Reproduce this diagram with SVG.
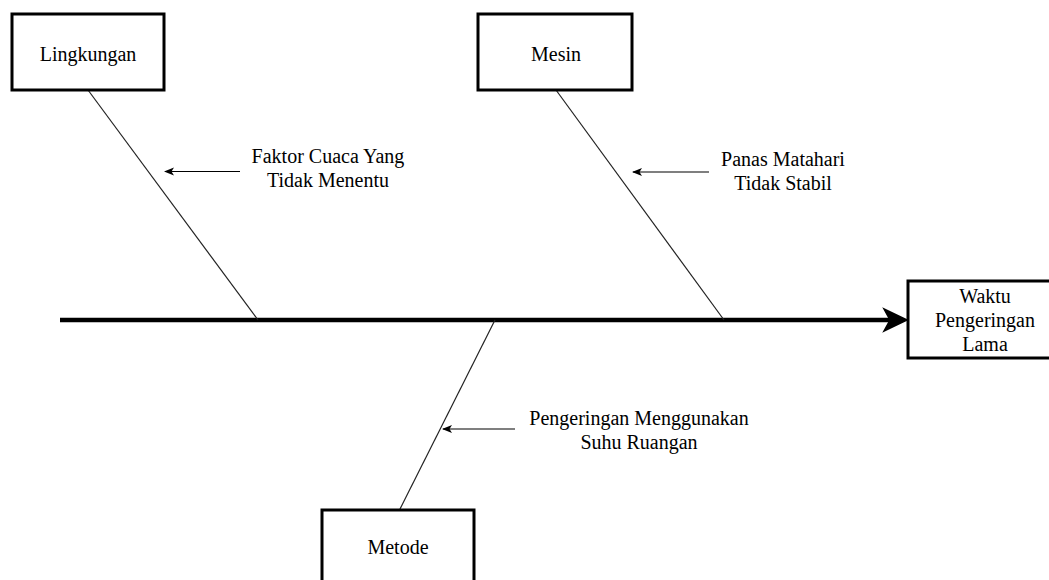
<svg xmlns="http://www.w3.org/2000/svg" width="1049" height="580" viewBox="0 0 1049 580">
<style>
.box{fill:#fff;stroke:#000;stroke-width:3}
.t{font-family:"Liberation Serif","Times New Roman",serif;font-size:20px;fill:#000;text-anchor:middle}
.bone{stroke:#222;stroke-width:1.2;fill:none}
.lab{stroke:#000;stroke-width:1.2;fill:none;marker-end:url(#sm)}
</style>
<defs>
<marker id="sm" viewBox="0 0 10 10" refX="9" refY="5" markerWidth="10" markerHeight="10" markerUnits="userSpaceOnUse" orient="auto">
<path d="M0,1 L10,5 L0,9 L2.5,5 Z" fill="#000"/>
</marker>
</defs>
<rect width="1049" height="580" fill="#fff"/>
<g id="connectors">
<line x1="60" y1="320" x2="890" y2="320" stroke="#000" stroke-width="4.5"/>
<path d="M907,320 L884,309 L890,320 L884,331 Z" fill="#000" stroke="#000" stroke-width="1.5" stroke-linejoin="miter"/>
<line class="bone" x1="88" y1="90" x2="258" y2="320"/>
<line class="bone" x1="556" y1="90" x2="724" y2="320"/>
<line class="bone" x1="495" y1="320" x2="400" y2="509"/>
<line class="lab" x1="240" y1="171.5" x2="165" y2="171.5"/>
<line class="lab" x1="709" y1="172" x2="633" y2="172"/>
<line class="lab" x1="515" y1="429" x2="443" y2="429"/>
</g>
<g id="lingkungan">
<rect class="box" x="12" y="14" width="152" height="76"/>
<text class="t" x="88" y="61">Lingkungan</text>
</g>
<g id="mesin">
<rect class="box" x="478" y="14" width="154" height="76"/>
<text class="t" x="556" y="61">Mesin</text>
</g>
<g id="metode">
<rect class="box" x="322" y="510" width="152" height="90"/>
<text class="t" x="398" y="554">Metode</text>
</g>
<g id="waktu">
<rect class="box" x="908" y="281" width="156" height="77"/>
<text class="t" x="985" y="303">Waktu</text>
<text class="t" x="985" y="327">Pengeringan</text>
<text class="t" x="985" y="351">Lama</text>
</g>
<g id="label-faktor">
<text class="t" x="328" y="163">Faktor Cuaca Yang</text>
<text class="t" x="328" y="187">Tidak Menentu</text>
</g>
<g id="label-panas">
<text class="t" x="783" y="166">Panas Matahari</text>
<text class="t" x="783" y="190">Tidak Stabil</text>
</g>
<g id="label-pengeringan">
<text class="t" x="639" y="425">Pengeringan Menggunakan</text>
<text class="t" x="639" y="449">Suhu Ruangan</text>
</g>
</svg>
